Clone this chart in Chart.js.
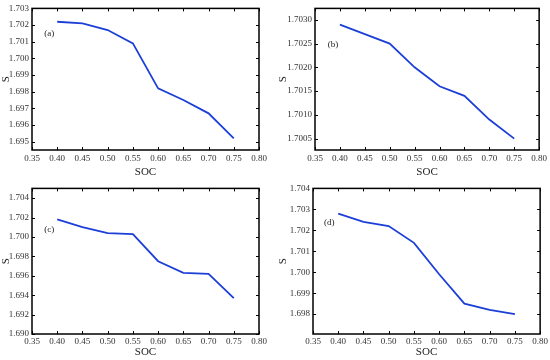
<!DOCTYPE html>
<html>
<head>
<meta charset="utf-8">
<script src="https://cdn.jsdelivr.net/npm/chart.js@4.4.0/dist/chart.umd.min.js"></script>
<style>
  body { margin: 0; background: #fff; }
  #wrap { position: relative; width: 550px; height: 360px; }
  canvas { position: absolute; }
</style>
</head>
<body>
<div id="wrap">
  <canvas id="chartA" width="275" height="180" style="left:0;top:0"></canvas>
  <canvas id="chartB" width="275" height="180" style="left:275px;top:0"></canvas>
  <canvas id="chartC" width="275" height="180" style="left:0;top:180px"></canvas>
  <canvas id="chartD" width="275" height="180" style="left:275px;top:180px"></canvas>
</div>
<script>
// data
var soc = [0.40, 0.45, 0.50, 0.55, 0.60, 0.65, 0.70, 0.75];
var sA = [1.7022, 1.7021, 1.7017, 1.7009, 1.6982, 1.6975, 1.6967, 1.6952];
var sB = [1.7029, 1.7027, 1.7025, 1.7020, 1.7016, 1.7014, 1.7009, 1.7005];
var sC = [1.7018, 1.7010, 1.7004, 1.7003, 1.6975, 1.6963, 1.6962, 1.6937];
var sD = [1.7028, 1.7024, 1.7022, 1.7014, 1.6999, 1.6985, 1.6982, 1.6980];

var panelNames = ["(a)", "(b)", "(c)", "(d)"];
var panelNamePos = [[0.384, 1.70147], [0.386, 1.70248], [0.384, 1.7008], [0.382, 1.70238]];

var serif = "'Liberation Serif', 'Times New Roman', serif";
var lineColor = "#1c3fd8";

// draws the box, the inward ticks and the panel letter
const framePlugin = {
    id: "frame",
    afterDraw(chart, args, opts) {
        const ctx = chart.ctx;
        const a = chart.chartArea;
        const xs = chart.scales.x;
        const ys = chart.scales.y;
        ctx.save();
        ctx.strokeStyle = "#000";
        ctx.lineWidth = 1;
        ctx.beginPath();
        xs.ticks.forEach(t => {
            const px = Math.round(xs.getPixelForValue(t.value)) + 0.5;
            ctx.moveTo(px, a.bottom); ctx.lineTo(px, a.bottom - 3);
            ctx.moveTo(px, a.top); ctx.lineTo(px, a.top + 3);
        });
        ys.ticks.forEach(t => {
            const py = Math.round(ys.getPixelForValue(t.value)) + 0.5;
            ctx.moveTo(a.left, py); ctx.lineTo(a.left + 3, py);
            ctx.moveTo(a.right, py); ctx.lineTo(a.right - 3, py);
        });
        ctx.stroke();
        ctx.lineWidth = 1.5;
        ctx.strokeRect(a.left, a.top, a.right - a.left, a.bottom - a.top);
        ctx.fillStyle = "#222";
        ctx.font = "9px " + serif;
        ctx.textAlign = "center";
        ctx.textBaseline = "middle";
        ctx.fillText(opts.name, xs.getPixelForValue(opts.pos[0]), ys.getPixelForValue(opts.pos[1]));
        ctx.restore();
    }
};

function drawPanel(id, values, yMin, yMax, yStep, digits, idx, yWidth, pad, xHeight, tickPad, yTitlePad) {
    const points = soc.map((v, i) => ({ x: v, y: values[i] }));
    new Chart(id, {
        type: "line",
        data: {
            datasets: [{
                data: points,
                borderColor: lineColor,
                borderWidth: 1.8,
                pointRadius: 0,
                tension: 0,
                fill: false
            }]
        },
        options: {
            responsive: false,
            animation: false,
            devicePixelRatio: 1,
            layout: { padding: pad },
            plugins: {
                legend: { display: false },
                tooltip: { enabled: false },
                frame: { name: panelNames[idx], pos: panelNamePos[idx] }
            },
            scales: {
                x: {
                    type: "linear",
                    min: 0.35,
                    max: 0.80,
                    afterFit: s => { s.height = xHeight; },
                    grid: { display: false, drawTicks: false },
                    border: { display: false },
                    ticks: {
                        stepSize: 0.05,
                        includeBounds: false,
                        padding: tickPad,
                        color: "#333",
                        font: { family: serif, size: 9 },
                        maxRotation: 0,
                        callback: v => v.toFixed(2)
                    },
                    title: {
                        display: true,
                        text: "SOC",
                        color: "#222",
                        font: { family: serif, size: 11 },
                        padding: { top: 0, bottom: 1 }
                    }
                },
                y: {
                    min: yMin,
                    max: yMax,
                    afterFit: s => { s.width = yWidth; },
                    grid: { display: false, drawTicks: false },
                    border: { display: false },
                    ticks: {
                        stepSize: yStep,
                        includeBounds: false,
                        padding: 3,
                        color: "#333",
                        font: { family: serif, size: 9 },
                        callback: v => v.toFixed(digits)
                    },
                    title: {
                        display: true,
                        text: "S",
                        color: "#222",
                        font: { family: serif, size: 11 },
                        padding: { top: yTitlePad, bottom: 0 }
                    }
                }
            }
        },
        plugins: [framePlugin]
    });
}

drawPanel("chartA", sA, 1.6945, 1.703, 0.001, 3, 0, 32, { left: 0, right: 16, top: 5, bottom: 0 }, 30, 3, 0);
drawPanel("chartB", sB, 1.70026, 1.70324, 0.0005, 4, 1, 40, { left: 0, right: 8, top: 5, bottom: 0 }, 30, 3, 1.5);
drawPanel("chartC", sC, 1.690, 1.705, 0.002, 3, 2, 32, { left: 0, right: 16, top: 7, bottom: 0 }, 26, 2, 0);
drawPanel("chartD", sD, 1.69705, 1.704, 0.001, 3, 3, 38, { left: 0, right: 8, top: 8, bottom: 0 }, 26, 2, 1.5);
</script>
</body>
</html>
